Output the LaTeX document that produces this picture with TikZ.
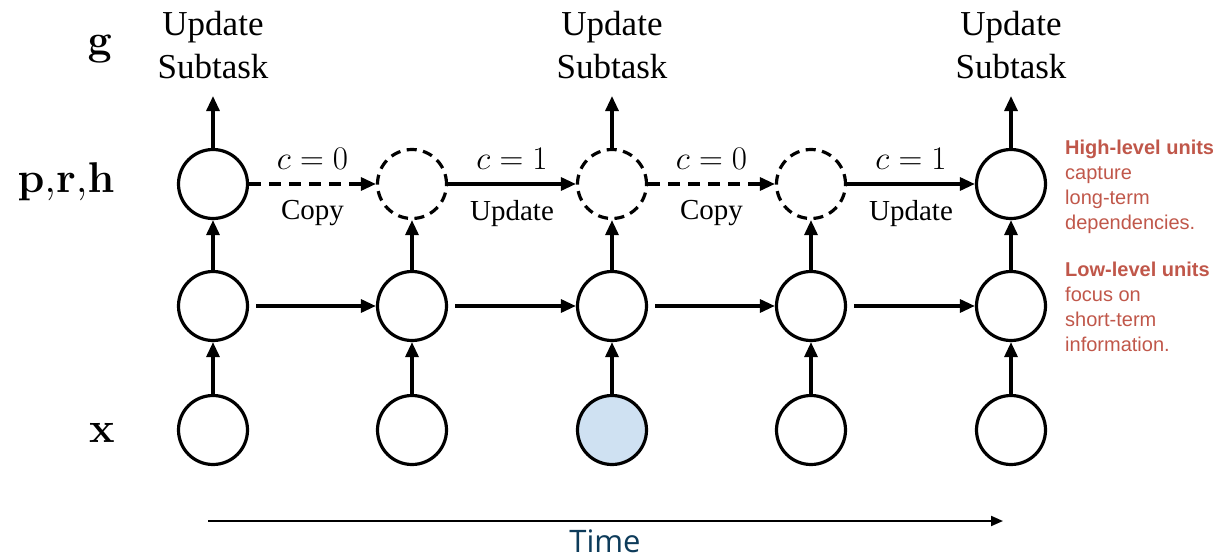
\RequirePackage{fix-cm}
\documentclass[tikz,border=0pt]{standalone}
\usepackage[no-math]{fontspec}
\setmainfont{Liberation Serif}
\newfontfamily\notefont{Liberation Sans}
\newfontfamily\timefont{Open Sans}
\usetikzlibrary{arrows.meta}
\definecolor{noteclr}{HTML}{C0574A}
\definecolor{timeclr}{HTML}{0D3B5A}
\definecolor{inclr}{HTML}{CFE1F2}
\begin{document}
\begin{tikzpicture}[x=1pt,y=-1pt,
  unit/.style={circle, draw, line width=3.2pt, minimum size=69pt, inner sep=0pt, fill=white},
  dunit/.style={unit, dash pattern=on 10pt off 6.5pt},
  arr/.style={-{Triangle[length=15pt,width=13pt]}, line width=3.2pt},
  darr/.style={arr, dash pattern=on 12pt off 8pt},
  uplab/.style={font=\fontsize{35}{43}\selectfont, align=center, anchor=north, inner sep=0pt},
  clab/.style={font=\fontsize{33}{38}\selectfont, anchor=base, inner sep=0pt},
  elab/.style={font=\fontsize{29}{34}\selectfont, anchor=base, inner sep=0pt},
  rowlab/.style={font=\fontsize{43}{46}\selectfont, anchor=base, inner sep=0pt},
  note/.style={font=\notefont\fontsize{20}{25}\selectfont, text=noteclr, align=left, anchor=north west, inner sep=0pt}
]
\useasboundingbox (0,0) rectangle (1221,559);
% rows: top 184, mid 306, bottom 430; columns 213,412,612,811,1011
\node[unit]  (t1) at (213,184) {};
\node[dunit] (t2) at (412,184) {};
\node[dunit] (t3) at (612,184) {};
\node[dunit] (t4) at (811,184) {};
\node[unit]  (t5) at (1011,184) {};
\node[unit] (m1) at (213,306) {};
\node[unit] (m2) at (412,306) {};
\node[unit] (m3) at (612,306) {};
\node[unit] (m4) at (811,306) {};
\node[unit] (m5) at (1011,306) {};
\node[unit] (b1) at (213,430) {};
\node[unit] (b2) at (412,430) {};
\node[unit, fill=inclr] (b3) at (612,430) {};
\node[unit] (b4) at (811,430) {};
\node[unit] (b5) at (1011,430) {};
% update subtask labels
\node[uplab] (u1) at (213,11) {Update\\Subtask};
\node[uplab] (u3) at (612,11) {Update\\Subtask};
\node[uplab] (u5) at (1011,11) {Update\\Subtask};
% row labels
\node[rowlab] (lg) at (100,55) {$\mathbf{g}$};
\node[rowlab] (lp) at (66,193) {$\mathbf{p},\!\mathbf{r},\!\mathbf{h}$};
\node[rowlab] (lx) at (102,442) {$\mathbf{x}$};
% vertical arrows
\foreach \i in {1,...,5}{
  \draw[arr] (b\i) -- (m\i);
  \draw[arr] (m\i) -- (t\i);
}
\draw[arr, shorten >=17pt] (t1) -- (u1);
\draw[arr, shorten >=17pt] (t3) -- (u3);
\draw[arr, shorten >=17pt] (t5) -- (u5);
% middle row arrows
\draw[arr, shorten <=7pt] (m1) -- (m2);
\draw[arr, shorten <=7pt] (m2) -- (m3);
\draw[arr, shorten <=7pt] (m3) -- (m4);
\draw[arr, shorten <=7pt] (m4) -- (m5);
% top row arrows
\draw[darr] (t1) -- node[clab, above=13pt] {$c=0$} node[elab, below=15pt] {Copy} (t2);
\draw[arr]  (t2) -- node[clab, above=13pt] {$c=1$} node[elab, below=15pt] {Update} (t3);
\draw[darr] (t3) -- node[clab, above=13pt] {$c=0$} node[elab, below=15pt] {Copy} (t4);
\draw[arr]  (t4) -- node[clab, above=13pt] {$c=1$} node[elab, below=15pt] {Update} (t5);
% notes
\node[note] (n1) at (1065,140) {\textbf{High-level units}\\capture\\long-term\\dependencies.};
\node[note] (n2) at (1065,262) {\textbf{Low-level units}\\focus on\\short-term\\information.};
% time axis
\coordinate (ts) at (208,521);
\coordinate (te) at (1003,521);
\draw[-{Triangle[length=12pt,width=10pt]}, line width=2pt] (ts) -- (te);
\node[font=\timefont\fontsize{31}{35}\selectfont, text=timeclr, anchor=base, inner sep=0pt] (time) at (605,552) {Time};
\end{tikzpicture}
\end{document}
